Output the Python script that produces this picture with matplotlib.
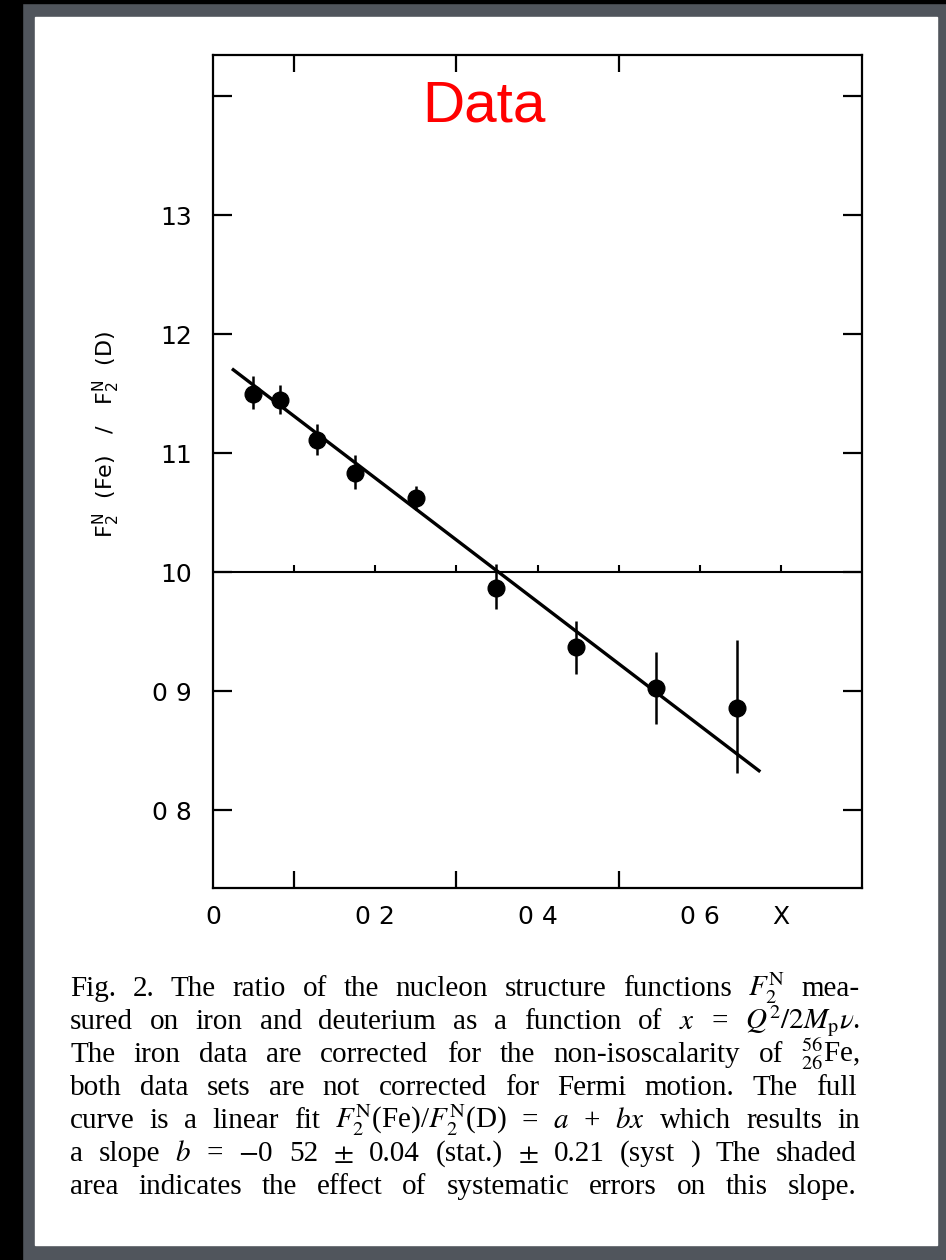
import matplotlib.pyplot as plt
from matplotlib.patches import Rectangle

# Messpunkte: x, Verhaeltnis F2(Fe)/F2(D) und Fehler
x_vals = [0.049, 0.082, 0.128, 0.175, 0.250, 0.349, 0.448, 0.546, 0.646]
ratio = [1.150, 1.1445, 1.111, 1.083, 1.062, 0.987, 0.937, 0.9025, 0.886]
err_lo = [0.013, 0.012, 0.013, 0.013, 0.010, 0.018, 0.023, 0.030, 0.055]
err_hi = [0.015, 0.013, 0.013, 0.015, 0.010, 0.020, 0.022, 0.030, 0.057]

# Linearer Fit a + b x
fit_a = 1.183
fit_b = -0.52
fit_x = [0.025, 0.673]

x_ticks = [0.0, 0.2, 0.4, 0.6, 0.7]
x_ticklabels = ["0", "0 2", "0 4", "0 6", "X"]
y_ticks = [0.8, 0.9, 1.0, 1.1, 1.2, 1.3, 1.4]
y_ticklabels = ["0 8", "0 9", "10", "11", "12", "13", ""]
minor_x = [0.1, 0.2, 0.3, 0.4, 0.5, 0.6, 0.7]

caption = [
    r"Fig. 2. The ratio of the nucleon structure functions $F_2^{\mathrm{N}}$ mea-",
    r"sured on iron and deuterium as a function of $x$ = $Q^2/2M_{\mathrm{p}}\nu$.",
    r"The iron data are corrected for the non-isoscalarity of ${}^{56}_{26}$Fe,",
    r"both data sets are not corrected for Fermi motion. The full",
    r"curve is a linear fit $F_2^{\mathrm{N}}$(Fe)/$F_2^{\mathrm{N}}$(D) = $a$ + $bx$ which results in",
    r"a slope $b$ = $-$0 52 $\pm$ 0.04 (stat.) $\pm$ 0.21 (syst )  The shaded",
    r"area indicates the effect of systematic errors on this slope.",
]
# rechter Rand jeder Zeile (Blocksatz), Pixel
caption_right = [860, 860, 860, 857, 860, 857, 856]

plt.rcParams['mathtext.fontset'] = 'stix'

fig = plt.figure(figsize=(9.46, 12.6), dpi=100)
fig.patch.set_facecolor('#50555c')
# schwarzer Rand links/oben, weisse Seite
fig.patches.append(Rectangle((0, 0), 22/946, 1, transform=fig.transFigure, color='black', zorder=-2))
fig.patches.append(Rectangle((0, 1-3/1260), 1, 3/1260, transform=fig.transFigure, color='black', zorder=-2))
fig.patches.append(Rectangle((35/946, 15/1260), (937-35)/946, (1243-15)/1260,
                             transform=fig.transFigure, color='white', zorder=-1))

ax = fig.add_axes([213/946, 1-888/1260, 649/946, 833/1260])
ax.set_xlim(0, 0.8)
ax.set_ylim(0.7345, 1.4345)

yerr = [err_lo, err_hi]
ax.errorbar(x_vals, ratio, yerr=yerr, fmt='o', color='black', ms=12, elinewidth=1.8, capsize=0)
ax.plot(fit_x, [fit_a + fit_b * v for v in fit_x], color='black', lw=2.4)
ax.axhline(1.0, color='black', lw=1.5)
ax.vlines(minor_x, 1.0, 1.006, color='black', lw=1.5)

ax.set_xticks(x_ticks)
ax.set_xticklabels(x_ticklabels)
ax.set_yticks(y_ticks)
ax.set_yticklabels(y_ticklabels)
ax.set_xticks(minor_x, minor=True)
ax.tick_params(axis='both', which='major', direction='in', length=14, width=1.6,
               top=True, right=True, labelsize=18)
ax.tick_params(axis='y', which='major', pad=15)
ax.tick_params(axis='x', which='major', length=0, pad=12)
ax.tick_params(axis='x', which='minor', direction='in', length=12, width=1.6, top=True)
for s in ax.spines.values():
    s.set_linewidth(1.6)

# y-Beschriftung, gedreht
fig.text(106/946, 1 - 434/1260, r"$\mathregular{F_2^N}$  (Fe)   /   $\mathregular{F_2^N}$  (D)",
         rotation=90, fontsize=16, ha='center', va='center')

fig.text(484/946, 1 - 122/1260, "Data", color='red', fontsize=42,
         ha='center', va='baseline', family='Liberation Sans')

# Bildunterschrift im Blocksatz: Woerter einzeln setzen
renderer = fig.canvas.get_renderer()
for i, line in enumerate(caption):
    words = line.split()
    y = 1 - (996 + 33 * i)/1260
    items = [fig.text(0, y, w, fontsize=21, family='Liberation Serif', va='baseline') for w in words]
    widths = [t.get_window_extent(renderer).width for t in items]
    gap = (caption_right[i] - 70 - sum(widths)) / (len(words) - 1)
    xpos = 70
    for t, w in zip(items, widths):
        t.set_x(xpos/946)
        xpos += w + gap

fig.savefig('out.png', dpi=100, facecolor=fig.get_facecolor())
